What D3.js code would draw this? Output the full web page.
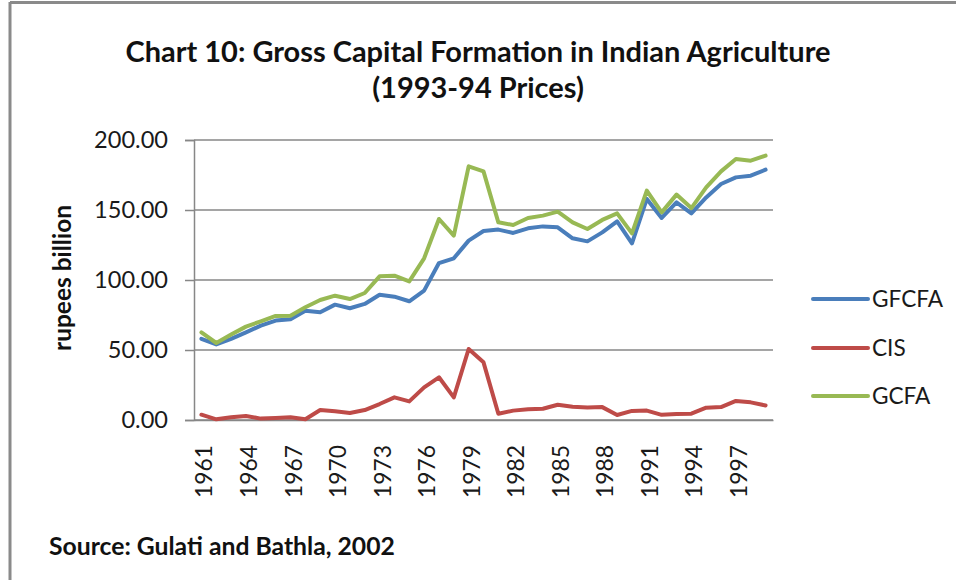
<!DOCTYPE html>
<html>
<head>
<meta charset="utf-8">
<script src="https://cdn.jsdelivr.net/npm/d3@7"></script>
<style>
  html, body { margin: 0; padding: 0; background: #fff; }
  svg { display: block; }
</style>
</head>
<body>
<svg id="chart" width="956" height="580"></svg>
<script>
const years = d3.range(1961, 2000);
const xTickLabels = ["1961","1964","1967","1970","1973","1976","1979","1982","1985","1988","1991","1994","1997"];
const yTicks = [0, 50, 100, 150, 200];
const seriesNames = ["GFCFA", "CIS", "GCFA"];
const gfcfa = [58, 54, 58, 62.6, 67.4, 71, 72, 78, 77, 82.4, 79.8, 82.9, 89.5, 88.1, 84.8, 92.4, 112.1, 115.5, 128.1, 135,
               136, 133.6, 136.9, 138.3, 137.6, 129.8, 127.6, 134, 141.9, 126.2, 157.9, 144.3, 155.5, 147.6, 159, 168.6, 173.3, 174.5, 178.8];
const cis = [3.8, 0.5, 1.9, 2.9, 1, 1.4, 1.9, 0.5, 7.1, 6.2, 5, 7.1, 11.4, 16.2, 13.3, 23.3, 30.5, 16.2, 50.7, 41.2,
             4.5, 6.7, 7.6, 8, 10.9, 9.5, 9, 9.2, 3.6, 6.5, 6.7, 3.7, 4.3, 4.5, 8.8, 9.2, 13.6, 12.6, 10.4];
const gcfa = [62.6, 55, 61, 66.7, 70.5, 74.3, 74.5, 80.5, 85.7, 88.8, 86.4, 90.7, 102.6, 103.1, 99, 115.5, 143.6, 131.7, 181.2, 177.6,
              141.2, 139.3, 144.3, 146, 148.8, 141.2, 136.4, 142.9, 147.6, 133.3, 163.8, 148.3, 161, 151.4, 166.2, 177.6, 186.4, 185.2, 188.8];
const seriesValues = [gfcfa, cis, gcfa];
const colors = ["#4A7EBB", "#BE4B48", "#98B954"];

(function() {
const svg = d3.select("#chart");
const FONT = "Lato, 'Open Sans', 'Liberation Sans', sans-serif";

// font size that makes `sel` exactly `target` px wide
function fitSize(sel, target) {
  const fs = parseFloat(sel.attr("font-size"));
  const w = sel.node().getComputedTextLength();
  return w > 0 ? fs * target / w : fs;
}

// frame
svg.append("line").attr("x1", 10).attr("x2", 10).attr("y1", 2).attr("y2", 580)
  .attr("stroke", "#8a8a8a").attr("stroke-width", 3);
svg.append("line").attr("x1", 10).attr("x2", 956).attr("y1", 2.5).attr("y2", 2.5)
  .attr("stroke", "#8a8a8a").attr("stroke-width", 3);

const pLeft = 194, pRight = 773, pTop = 140, pBottom = 420;
const x = d3.scaleBand().domain(years).range([pLeft, pRight]).padding(0);
const y = d3.scaleLinear().domain([0, 200]).range([pBottom, pTop]);
const cx = d => x(d) + x.bandwidth() / 2;

// gridlines
svg.append("g").selectAll("line").data(yTicks).join("line")
  .attr("x1", pLeft).attr("x2", pRight)
  .attr("y1", d => y(d)).attr("y2", d => y(d))
  .attr("stroke", "#878787").attr("stroke-width", 1.5);

// y axis
const yAxis = svg.append("g").attr("transform", `translate(${pLeft},0)`)
  .call(d3.axisLeft(y).tickValues(yTicks).tickSize(9).tickPadding(17).tickFormat(d3.format(".2f")));
yAxis.select(".domain").attr("stroke", "#878787").attr("stroke-width", 1.5);
yAxis.selectAll(".tick line").attr("stroke", "#878787").attr("stroke-width", 1.5);
const yLabels = yAxis.selectAll("text").attr("font-family", FONT).attr("font-size", 22).attr("fill", "#1a1a1a");
const yFs = fitSize(yAxis.selectAll("text").filter(d => d === 200), 74);
yLabels.attr("font-size", yFs.toFixed(2));

// x axis
const xAxis = svg.append("g").attr("transform", `translate(0,${pBottom})`)
  .call(d3.axisBottom(x).tickValues(years.filter(v => xTickLabels.includes(String(v)))).tickSize(0).tickFormat(d => String(d)));
xAxis.select(".domain").attr("stroke", "#878787").attr("stroke-width", 1.5);
const xLabels = xAxis.selectAll("text")
  .attr("font-family", FONT).attr("font-size", 22).attr("fill", "#1a1a1a")
  .attr("text-anchor", "end")
  .attr("transform", "rotate(-90)")
  .attr("x", -25).attr("y", 3).attr("dy", "0.35em");
const xFs = fitSize(xAxis.select("text"), 53);
xLabels.attr("font-size", xFs.toFixed(2));

// lines
const line = d3.line().x((d, i) => cx(years[i])).y(d => y(d));
seriesValues.forEach((vals, k) => {
  svg.append("path").datum(vals)
    .attr("fill", "none").attr("stroke", colors[k]).attr("stroke-width", 4)
    .attr("stroke-linejoin", "round").attr("stroke-linecap", "round")
    .attr("d", line);
});

// legend
const legendY = [299, 348, 396];
const legTexts = [];
seriesNames.forEach((name, k) => {
  svg.append("line").attr("x1", 813).attr("x2", 868).attr("y1", legendY[k]).attr("y2", legendY[k])
    .attr("stroke", colors[k]).attr("stroke-width", 4).attr("stroke-linecap", "round");
  legTexts.push(svg.append("text").attr("x", 872).attr("y", legendY[k]).attr("dy", "0.36em")
    .attr("font-family", FONT).attr("font-size", 22).attr("fill", "#1a1a1a").text(name));
});
const lFs = fitSize(legTexts[0], 71);
legTexts.forEach(t => t.attr("font-size", lFs.toFixed(2)));

// titles
const t1 = svg.append("text").attr("x", 478).attr("y", 62).attr("text-anchor", "middle")
  .attr("font-family", FONT).attr("font-weight", "bold").attr("font-size", 26).attr("fill", "#111")
  .text("Chart 10: Gross Capital Formation in Indian Agriculture");
const tFs = fitSize(t1, 705);
t1.attr("font-size", tFs.toFixed(2));
svg.append("text").attr("x", 478).attr("y", 98).attr("text-anchor", "middle")
  .attr("font-family", FONT).attr("font-weight", "bold").attr("font-size", tFs.toFixed(2)).attr("fill", "#111")
  .text("(1993-94 Prices)");

// y axis title
const yt = svg.append("text").attr("transform", "translate(62,278) rotate(-90)")
  .attr("text-anchor", "middle").attr("dy", "0.35em")
  .attr("font-family", FONT).attr("font-weight", "bold").attr("font-size", 20).attr("fill", "#111")
  .text("rupees billion");
yt.attr("font-size", fitSize(yt, 146).toFixed(2));

// source
const src = svg.append("text").attr("x", 49).attr("y", 555)
  .attr("font-family", FONT).attr("font-weight", "bold").attr("font-size", 20).attr("fill", "#111")
  .text("Source: Gulati and Bathla, 2002");
src.attr("font-size", fitSize(src, 346).toFixed(2));
})();
</script>
</body>
</html>
